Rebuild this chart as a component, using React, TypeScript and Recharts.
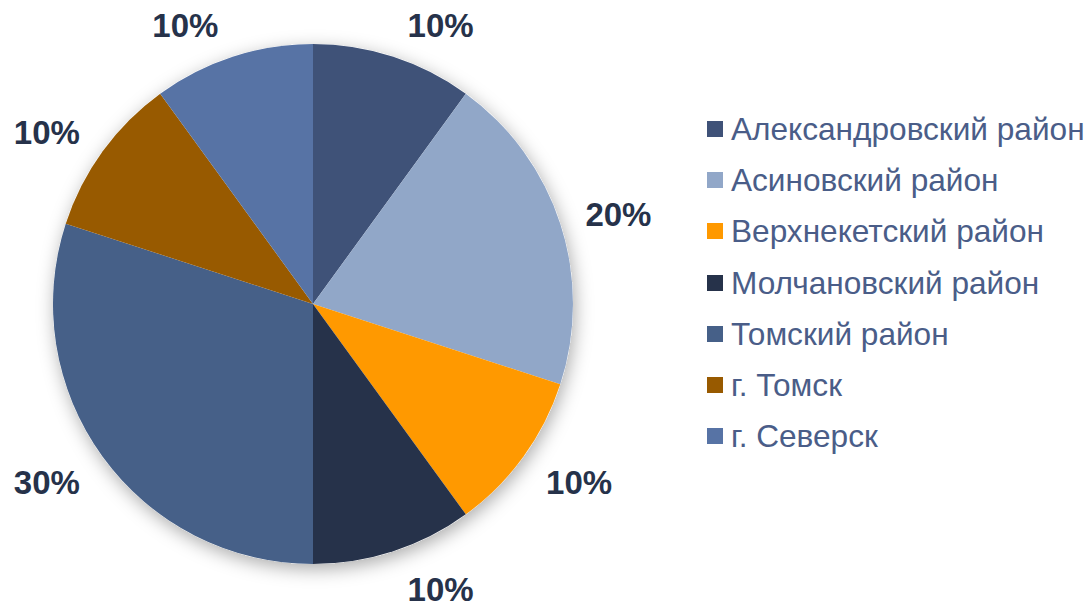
import React from "react";
import { PieChart, Pie, Cell, Legend } from "recharts";

const categories = [
  "Александровский район",
  "Асиновский район",
  "Верхнекетский район",
  "Молчановский район",
  "Томский район",
  "г. Томск",
  "г. Северск",
];
const shares = [10, 20, 10, 10, 30, 10, 10];
const colors = ["#3F5278", "#91A7C8", "#FF9900", "#26324A", "#466088", "#985A00", "#5773A5"];

const data = categories.map((name, i) => ({ name, value: shares[i] }));
const backdrop = [{ name: "bg", value: 1 }];

const RAD = Math.PI / 180;

const renderLabel = (props: any) => {
  const { cx, cy, midAngle, outerRadius, value } = props;
  const c = Math.cos(-midAngle * RAD);
  const s = Math.sin(-midAngle * RAD);
  const x = cx + (outerRadius + 17) * c + Math.sign(c) * 42;
  const y = cy + (outerRadius + 35) * s + 2 + (s > 0 ? 3 : 0);
  return (
    <text
      x={x}
      y={y}
      textAnchor="middle"
      dominantBaseline="central"
      fill="#26324A"
      fontSize={33}
      fontWeight="bold"
      fontFamily="'Liberation Sans', Arial, sans-serif"
    >
      {`${value}%`}
    </text>
  );
};

const renderLegend = () => (
  <div style={{ fontFamily: "'Liberation Sans', Arial, sans-serif" }}>
    {categories.map((name, i) => (
      <div
        key={name}
        style={{ display: "flex", alignItems: "center", height: 51.3, whiteSpace: "nowrap" }}
      >
        <span
          style={{ display: "inline-block", width: 16, height: 16, background: colors[i], marginRight: 8 }}
        />
        <span style={{ fontSize: 31.6, color: "#4A5D88", lineHeight: "32px" }}>{name}</span>
      </div>
    ))}
  </div>
);

export default function App() {
  return (
    <div style={{ position: "absolute", left: 0, top: 0, width: 1091, height: 602, background: "#FFFFFF" }}>
      <PieChart width={1091} height={602} margin={{ top: 0, right: 0, bottom: 0, left: 0 }}>
        <defs>
          <filter id="pieShadow" x="-20%" y="-20%" width="140%" height="140%">
            <feDropShadow dx="2" dy="5" stdDeviation="9" floodColor="#000000" floodOpacity="0.33" />
          </filter>
        </defs>
        <Pie
          data={backdrop}
          dataKey="value"
          cx={313}
          cy={304}
          outerRadius={260}
          fill="#FFFFFF"
          stroke="none"
          isAnimationActive={false}
          legendType="none"
          style={{ filter: "url(#pieShadow)" }}
          label={false}
        />
        <Pie
          data={data}
          dataKey="value"
          nameKey="name"
          cx={313}
          cy={304}
          outerRadius={260}
          startAngle={90}
          endAngle={-270}
          stroke="none"
          isAnimationActive={false}
          labelLine={false}
          label={renderLabel}
        >
          {data.map((d, i) => (
            <Cell key={d.name} fill={colors[i]} />
          ))}
        </Pie>
        <Legend
          layout="vertical"
          content={renderLegend}
          wrapperStyle={{ left: 707, top: 103, width: 384 }}
        />
      </PieChart>
    </div>
  );
}
